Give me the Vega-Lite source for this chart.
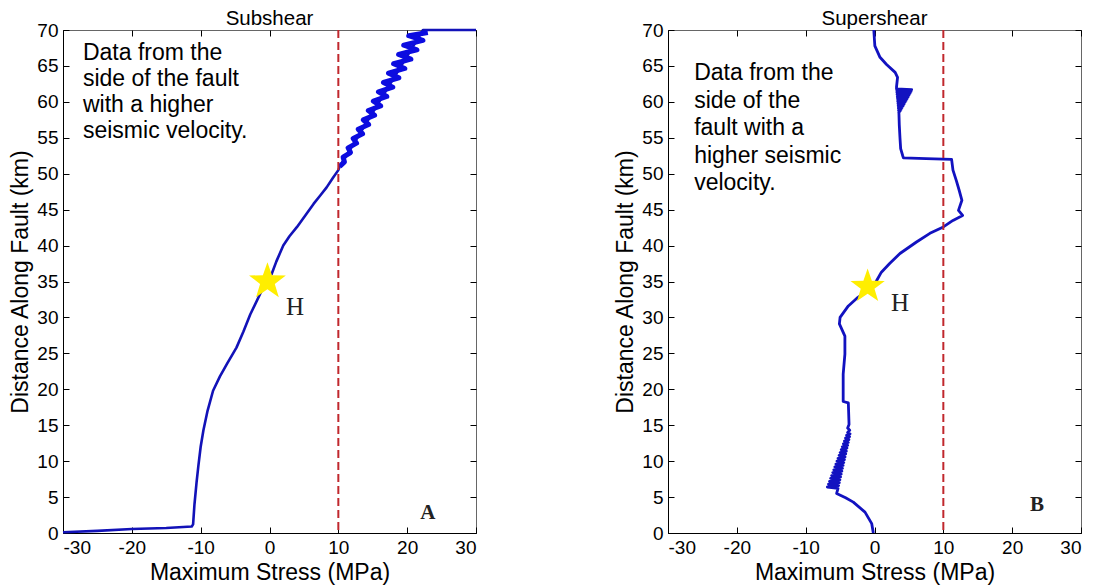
{
  "$schema": "https://vega.github.io/schema/vega-lite/v6.json",
  "padding": {"left": 9, "top": 8, "right": 8, "bottom": 6},
  "background": "white",
  "config": {
    "font": "Liberation Sans",
    "view": {"stroke": "#666666", "strokeWidth": 1},
    "axis": {"grid": false, "labelFont": "Liberation Sans", "labelFontSize": 19, "labelColor": "#000000", "titleFont": "Liberation Sans", "titleFontSize": 23, "titleFontWeight": "normal", "titleColor": "#000000", "domainColor": "#000000", "tickColor": "#000000", "tickSize": -6, "labelPadding": 11, "titlePadding": 4, "labelExpr": "'' + datum.value"},
    "title": {"fontSize": 20.5, "fontWeight": "normal", "font": "Liberation Sans", "offset": -8, "color": "#000000"},
    "concat": {"spacing": 136}
  },
  "datasets": {
    "subshear_smooth": [
      {"stress": -30, "distance": 0.1}, {"stress": -25, "distance": 0.3}, {"stress": -20, "distance": 0.55}, {"stress": -15, "distance": 0.7},
      {"stress": -11.3, "distance": 0.9}, {"stress": -11.1, "distance": 1.2}, {"stress": -10.9, "distance": 4}, {"stress": -10.6, "distance": 7},
      {"stress": -10.35, "distance": 9.2}, {"stress": -10.0, "distance": 12}, {"stress": -9.6, "distance": 14.3}, {"stress": -9.0, "distance": 17},
      {"stress": -8.2, "distance": 19.8}, {"stress": -7.2, "distance": 21.8}, {"stress": -6.2, "distance": 23.5}, {"stress": -4.8, "distance": 25.8},
      {"stress": -3.8, "distance": 28.0}, {"stress": -2.8, "distance": 30.4}, {"stress": -1.4, "distance": 33.2}, {"stress": -0.6, "distance": 34.8},
      {"stress": 0.3, "distance": 36.0}, {"stress": 1.0, "distance": 37.8}, {"stress": 2.0, "distance": 40}, {"stress": 2.9, "distance": 41.3},
      {"stress": 4.0, "distance": 42.6}, {"stress": 5.2, "distance": 44.2}, {"stress": 6.4, "distance": 45.8}, {"stress": 7.4, "distance": 47},
      {"stress": 8.3, "distance": 48.1}, {"stress": 9.2, "distance": 49.4}, {"stress": 10.0, "distance": 50.5}, {"stress": 10.2, "distance": 51.0},
      {"stress": 22.3, "distance": 70}, {"stress": 30, "distance": 70}
    ],
    "subshear_ripple": [
      {"stress": 10.2, "distance": 51.0}, {"stress": 10.89, "distance": 51.65}, {"stress": 10.69, "distance": 52.3}, {"stress": 11.77, "distance": 52.95},
      {"stress": 11.42, "distance": 53.6}, {"stress": 12.65, "distance": 54.25}, {"stress": 12.16, "distance": 54.9}, {"stress": 13.52, "distance": 55.55},
      {"stress": 12.88, "distance": 56.2}, {"stress": 14.4, "distance": 56.85}, {"stress": 13.62, "distance": 57.5}, {"stress": 15.27, "distance": 58.15},
      {"stress": 14.36, "distance": 58.8}, {"stress": 16.15, "distance": 59.45}, {"stress": 15.09, "distance": 60.1}, {"stress": 17.04, "distance": 60.75},
      {"stress": 15.83, "distance": 61.4}, {"stress": 17.91, "distance": 62.05}, {"stress": 16.56, "distance": 62.7}, {"stress": 18.79, "distance": 63.35},
      {"stress": 17.29, "distance": 64.0}, {"stress": 19.66, "distance": 64.65}, {"stress": 18.03, "distance": 65.3}, {"stress": 20.54, "distance": 65.95},
      {"stress": 18.76, "distance": 66.6}, {"stress": 21.42, "distance": 67.25}, {"stress": 19.5, "distance": 67.9}, {"stress": 22.29, "distance": 68.55},
      {"stress": 20.23, "distance": 69.2}, {"stress": 23.0, "distance": 69.65}
    ],
    "supershear": [
      {"stress": -0.1, "distance": 70}, {"stress": 0.0, "distance": 68.5}, {"stress": 0.05, "distance": 67.8}, {"stress": 0.8, "distance": 66.2},
      {"stress": 1.75, "distance": 65.2}, {"stress": 3.0, "distance": 64.1}, {"stress": 3.35, "distance": 63.4}, {"stress": 3.2, "distance": 62.1},
      {"stress": 3.2, "distance": 61.8}, {"stress": 5.4, "distance": 61.7}, {"stress": 3.23, "distance": 61.55}, {"stress": 5.31, "distance": 61.45},
      {"stress": 3.25, "distance": 61.3}, {"stress": 5.17, "distance": 61.2}, {"stress": 3.28, "distance": 61.05}, {"stress": 5.02, "distance": 60.95},
      {"stress": 3.31, "distance": 60.8}, {"stress": 4.88, "distance": 60.7}, {"stress": 3.33, "distance": 60.55}, {"stress": 4.73, "distance": 60.45},
      {"stress": 3.36, "distance": 60.3}, {"stress": 4.59, "distance": 60.2}, {"stress": 3.38, "distance": 60.05}, {"stress": 4.45, "distance": 59.95},
      {"stress": 3.41, "distance": 59.8}, {"stress": 4.3, "distance": 59.7}, {"stress": 3.43, "distance": 59.55}, {"stress": 4.16, "distance": 59.45},
      {"stress": 3.46, "distance": 59.3}, {"stress": 4.01, "distance": 59.2}, {"stress": 3.48, "distance": 59.05}, {"stress": 3.87, "distance": 58.95},
      {"stress": 3.5, "distance": 58.8}, {"stress": 3.72, "distance": 58.7}, {"stress": 3.53, "distance": 58.55}, {"stress": 3.55, "distance": 58.4},
      {"stress": 3.6, "distance": 56.8}, {"stress": 3.7, "distance": 55}, {"stress": 3.8, "distance": 53.5}, {"stress": 4.1, "distance": 52.5},
      {"stress": 4.2, "distance": 52.2}, {"stress": 7.5, "distance": 52.1}, {"stress": 11.2, "distance": 52.0}, {"stress": 11.4, "distance": 50.5},
      {"stress": 11.9, "distance": 49}, {"stress": 12.3, "distance": 47.7}, {"stress": 12.7, "distance": 46.3}, {"stress": 12.2, "distance": 44.9},
      {"stress": 12.8, "distance": 44.2}, {"stress": 11.4, "distance": 43.5}, {"stress": 10.0, "distance": 42.6}, {"stress": 8.05, "distance": 41.7},
      {"stress": 6.1, "distance": 40.5}, {"stress": 3.7, "distance": 38.9}, {"stress": 2.2, "distance": 37.5}, {"stress": 1.0, "distance": 36.3},
      {"stress": 0.3, "distance": 35.1}, {"stress": -0.6, "distance": 34.0}, {"stress": -2.4, "distance": 32.8}, {"stress": -3.8, "distance": 31.6},
      {"stress": -5.0, "distance": 30}, {"stress": -5.1, "distance": 29.1}, {"stress": -4.3, "distance": 27.4}, {"stress": -4.3, "distance": 24.9},
      {"stress": -4.55, "distance": 22.1}, {"stress": -4.55, "distance": 18.3}, {"stress": -3.8, "distance": 18.1}, {"stress": -3.7, "distance": 15.1},
      {"stress": -3.9, "distance": 14.6}, {"stress": -3.6, "distance": 14.3},
      {"stress": -3.9, "distance": 14.0}, {"stress": -3.55, "distance": 13.8}, {"stress": -4.06, "distance": 13.6}, {"stress": -3.62, "distance": 13.4},
      {"stress": -4.21, "distance": 13.2}, {"stress": -3.72, "distance": 13.0}, {"stress": -4.37, "distance": 12.8}, {"stress": -3.81, "distance": 12.6},
      {"stress": -4.52, "distance": 12.4}, {"stress": -3.9, "distance": 12.2}, {"stress": -4.68, "distance": 12.0}, {"stress": -4.0, "distance": 11.8},
      {"stress": -4.83, "distance": 11.6}, {"stress": -4.09, "distance": 11.4}, {"stress": -4.99, "distance": 11.2}, {"stress": -4.18, "distance": 11.0},
      {"stress": -5.14, "distance": 10.8}, {"stress": -4.28, "distance": 10.6}, {"stress": -5.3, "distance": 10.4}, {"stress": -4.37, "distance": 10.2},
      {"stress": -5.45, "distance": 10.0}, {"stress": -4.46, "distance": 9.8}, {"stress": -5.61, "distance": 9.6}, {"stress": -4.56, "distance": 9.4},
      {"stress": -5.76, "distance": 9.2}, {"stress": -4.65, "distance": 9.0}, {"stress": -5.92, "distance": 8.8}, {"stress": -4.74, "distance": 8.6},
      {"stress": -6.07, "distance": 8.4}, {"stress": -4.83, "distance": 8.2}, {"stress": -6.23, "distance": 8.0}, {"stress": -4.93, "distance": 7.8},
      {"stress": -6.38, "distance": 7.6}, {"stress": -5.02, "distance": 7.4}, {"stress": -6.54, "distance": 7.2}, {"stress": -5.11, "distance": 7.0},
      {"stress": -6.69, "distance": 6.8}, {"stress": -5.21, "distance": 6.6}, {"stress": -6.85, "distance": 6.4}, {"stress": -5.3, "distance": 6.2},
      {"stress": -5.5, "distance": 5.5}, {"stress": -4.2, "distance": 4.9}, {"stress": -3.08, "distance": 4.3}, {"stress": -1.38, "distance": 2.9},
      {"stress": -0.4, "distance": 1.3}, {"stress": -0.17, "distance": 0}
    ]
  },
  "hconcat": [
    {
      "width": 413, "height": 503,
      "title": "Subshear",
      "layer": [
        {
          "data": {"name": "subshear_smooth"},
          "mark": {"type": "line", "color": "#1212b8", "strokeWidth": 2.6, "strokeJoin": "round"},
          "encoding": {
            "x": {"field": "stress", "type": "quantitative", "scale": {"domain": [-30, 30], "nice": false}, "axis": {"values": [-30, -20, -10, 0, 10, 20, 30], "title": "Maximum Stress (MPa)"}},
            "y": {"field": "distance", "type": "quantitative", "scale": {"domain": [0, 70], "nice": false}, "axis": {"values": [0, 5, 10, 15, 20, 25, 30, 35, 40, 45, 50, 55, 60, 65, 70], "title": "Distance Along Fault (km)"}},
            "order": {"value": null}
          }
        },
        {
          "data": {"name": "subshear_ripple"},
          "mark": {"type": "line", "color": "#0c0ce0", "strokeWidth": 5, "strokeJoin": "round"},
          "encoding": {
            "x": {"field": "stress", "type": "quantitative", "axis": null},
            "y": {"field": "distance", "type": "quantitative", "axis": null},
            "order": {"value": null}
          }
        },
        {
          "data": {"values": [{"stress": 10}]},
          "mark": {"type": "rule", "color": "#c0272d", "strokeDash": [8, 4], "strokeWidth": 2},
          "encoding": {"x": {"field": "stress", "type": "quantitative", "axis": null}}
        },
        {
          "data": {"values": [{"stress": -0.3, "distance": 35}]},
          "mark": {"type": "point", "shape": "M0,-1L0.235,-0.324L0.951,-0.309L0.38,0.124L0.588,0.809L0,0.4L-0.588,0.809L-0.38,0.124L-0.951,-0.309L-0.235,-0.324Z", "filled": true, "color": "#ffee00", "opacity": 1, "size": 1500},
          "encoding": {
            "x": {"field": "stress", "type": "quantitative", "axis": {"orient": "top", "labels": false, "title": null, "domain": false, "minExtent": 0, "maxExtent": 0, "values": [-30, -20, -10, 0, 10, 20, 30]}},
            "y": {"field": "distance", "type": "quantitative", "axis": {"orient": "right", "labels": false, "title": null, "domain": false, "minExtent": 0, "maxExtent": 0, "values": [0, 5, 10, 15, 20, 25, 30, 35, 40, 45, 50, 55, 60, 65, 70]}}
          }
        },
        {
          "data": {"values": [{"stress": 3.7, "distance": 31.4, "label": "H"}]},
          "mark": {"type": "text", "font": "Liberation Serif", "fontSize": 25, "align": "center", "baseline": "middle", "color": "#222222"},
          "encoding": {"x": {"field": "stress", "type": "quantitative", "axis": null}, "y": {"field": "distance", "type": "quantitative", "axis": null}, "text": {"field": "label"}}
        },
        {
          "data": {"values": [{"stress": 23.0, "distance": 2.8, "label": "A"}]},
          "mark": {"type": "text", "font": "Liberation Serif", "fontSize": 21, "fontWeight": "bold", "align": "center", "baseline": "middle", "color": "#222222"},
          "encoding": {"x": {"field": "stress", "type": "quantitative", "axis": null}, "y": {"field": "distance", "type": "quantitative", "axis": null}, "text": {"field": "label"}}
        },
        {
          "data": {"values": [{"stress": -27.1, "distance": 68.3, "label": "Data from the\nside of the fault\nwith a higher\nseismic velocity."}]},
          "mark": {"type": "text", "fontSize": 23, "align": "left", "baseline": "top", "lineBreak": "\n", "lineHeight": 26, "color": "#000000"},
          "encoding": {"x": {"field": "stress", "type": "quantitative", "axis": null}, "y": {"field": "distance", "type": "quantitative", "axis": null}, "text": {"field": "label"}}
        }
      ],
      "resolve": {"axis": {"x": "independent", "y": "independent"}}
    },
    {
      "width": 413, "height": 503,
      "title": "Supershear",
      "layer": [
        {
          "data": {"name": "supershear"},
          "mark": {"type": "line", "color": "#1212c0", "strokeWidth": 2.8, "strokeJoin": "round"},
          "encoding": {
            "x": {"field": "stress", "type": "quantitative", "scale": {"domain": [-30, 30], "nice": false}, "axis": {"values": [-30, -20, -10, 0, 10, 20, 30], "title": "Maximum Stress (MPa)"}},
            "y": {"field": "distance", "type": "quantitative", "scale": {"domain": [0, 70], "nice": false}, "axis": {"values": [0, 5, 10, 15, 20, 25, 30, 35, 40, 45, 50, 55, 60, 65, 70], "title": "Distance Along Fault (km)"}},
            "order": {"value": null}
          }
        },
        {
          "data": {"values": [{"stress": 10}]},
          "mark": {"type": "rule", "color": "#c0272d", "strokeDash": [8, 4], "strokeWidth": 2},
          "encoding": {"x": {"field": "stress", "type": "quantitative", "axis": null}}
        },
        {
          "data": {"values": [{"stress": -1.0, "distance": 34.3}]},
          "mark": {"type": "point", "shape": "M0,-1L0.235,-0.324L0.951,-0.309L0.38,0.124L0.588,0.809L0,0.4L-0.588,0.809L-0.38,0.124L-0.951,-0.309L-0.235,-0.324Z", "filled": true, "color": "#ffee00", "opacity": 1, "size": 1300},
          "encoding": {
            "x": {"field": "stress", "type": "quantitative", "axis": {"orient": "top", "labels": false, "title": null, "domain": false, "minExtent": 0, "maxExtent": 0, "values": [-30, -20, -10, 0, 10, 20, 30]}},
            "y": {"field": "distance", "type": "quantitative", "axis": {"orient": "right", "labels": false, "title": null, "domain": false, "minExtent": 0, "maxExtent": 0, "values": [0, 5, 10, 15, 20, 25, 30, 35, 40, 45, 50, 55, 60, 65, 70]}}
          }
        },
        {
          "data": {"values": [{"stress": 3.7, "distance": 32.0, "label": "H"}]},
          "mark": {"type": "text", "font": "Liberation Serif", "fontSize": 25, "align": "center", "baseline": "middle", "color": "#222222"},
          "encoding": {"x": {"field": "stress", "type": "quantitative", "axis": null}, "y": {"field": "distance", "type": "quantitative", "axis": null}, "text": {"field": "label"}}
        },
        {
          "data": {"values": [{"stress": 23.6, "distance": 3.9, "label": "B"}]},
          "mark": {"type": "text", "font": "Liberation Serif", "fontSize": 21, "fontWeight": "bold", "align": "center", "baseline": "middle", "color": "#222222"},
          "encoding": {"x": {"field": "stress", "type": "quantitative", "axis": null}, "y": {"field": "distance", "type": "quantitative", "axis": null}, "text": {"field": "label"}}
        },
        {
          "data": {"values": [{"stress": -26.2, "distance": 65.5, "label": "Data from the\nside of the\nfault with a\nhigher seismic\nvelocity."}]},
          "mark": {"type": "text", "fontSize": 23, "align": "left", "baseline": "top", "lineBreak": "\n", "lineHeight": 27.5, "color": "#000000"},
          "encoding": {"x": {"field": "stress", "type": "quantitative", "axis": null}, "y": {"field": "distance", "type": "quantitative", "axis": null}, "text": {"field": "label"}}
        }
      ],
      "resolve": {"axis": {"x": "independent", "y": "independent"}}
    }
  ]
}
